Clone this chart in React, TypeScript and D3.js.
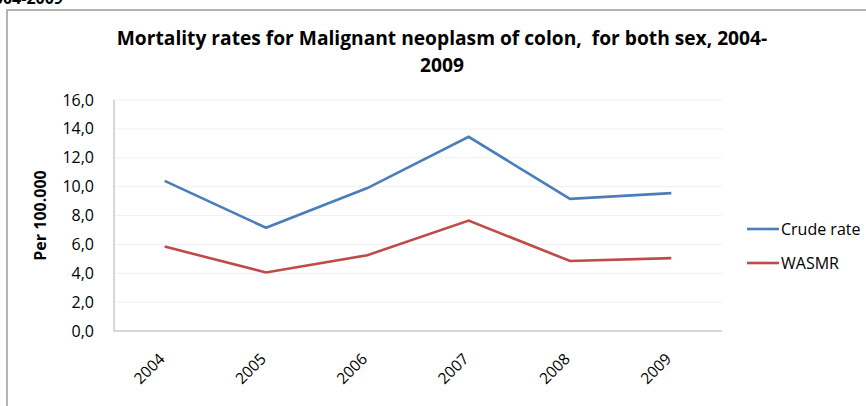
import React from "react";
import * as d3 from "d3";

const years = ["2004", "2005", "2006", "2007", "2008", "2009"];
const crudeRate = [10.4, 7.15, 9.9, 13.45, 9.15, 9.55];
const wasmr = [5.85, 4.05, 5.25, 7.65, 4.85, 5.05];
const yTicks = [0, 2, 4, 6, 8, 10, 12, 14, 16];
const seriesNames = ["Crude rate", "WASMR"];
const seriesColors = ["#4a7ebb", "#be4b48"];

const W = 866, H = 406;
const plot = { left: 114, right: 722, top: 100, bottom: 331 };
const font = "'Open Sans', sans-serif";

export default function App() {
  const x = d3.scaleBand<string>().domain(years).range([plot.left, plot.right]);
  const y = d3.scaleLinear().domain([0, 16]).range([plot.bottom, plot.top]);
  const line = d3.line<number>()
    .x((_, i) => (x(years[i]) as number) + x.bandwidth() / 2)
    .y((d) => y(d));
  const series = [crudeRate, wasmr];
  const fmt = (v: number) => v.toFixed(1).replace(".", ",");

  return (
    <svg width={W} height={H} style={{ position: "absolute", left: 0, top: 0, background: "#fff" }}>
      <text x={63} y={4} textAnchor="end" fontFamily={font} fontWeight="bold" fontSize={16}>2004-2009</text>
      <rect x={7} y={10} width={W} height={H} fill="none" stroke="#9a9a9a" strokeWidth={1.5} />
      <text x={442} y={45} textAnchor="middle" fontFamily={font} fontWeight="bold" fontSize={19.2} xmlSpace="preserve" style={{ whiteSpace: "pre" }}>
        {"Mortality rates for Malignant neoplasm of colon,  for both sex, 2004-"}
      </text>
      <text x={442} y={72} textAnchor="middle" fontFamily={font} fontWeight="bold" fontSize={19.2}>2009</text>
      {yTicks.map((t) => (
        <g key={t}>
          {t > 0 && <line x1={plot.left} x2={plot.right} y1={y(t)} y2={y(t)} stroke="#f0f0f0" strokeWidth={1} />}
          <text x={94} y={y(t)} dy="0.35em" textAnchor="end" fontFamily={font} fontSize={16}>{fmt(t)}</text>
        </g>
      ))}
      <line x1={plot.left} x2={plot.left} y1={plot.top} y2={plot.bottom} stroke="#b0b0b0" />
      <line x1={plot.left} x2={plot.right} y1={plot.bottom} y2={plot.bottom} stroke="#b0b0b0" />
      <text transform={`translate(46,${(plot.top + plot.bottom) / 2}) rotate(-90)`} textAnchor="middle"
        fontFamily={font} fontWeight="bold" fontSize={16}>Per 100.000</text>
      {years.map((yr) => {
        const cx = (x(yr) as number) + x.bandwidth() / 2;
        return (
          <text key={yr} transform={`translate(${cx + 1},${360}) rotate(-45)`} textAnchor="end"
            fontFamily={font} fontSize={15.5}>{yr}</text>
        );
      })}
      {series.map((s, i) => (
        <path key={i} d={line(s) || ""} fill="none" stroke={seriesColors[i]} strokeWidth={2.6} />
      ))}
      {seriesNames.map((n, i) => (
        <g key={n}>
          <line x1={747} x2={779} y1={229 + i * 34} y2={229 + i * 34} stroke={seriesColors[i]} strokeWidth={2.6} />
          <text x={781} y={229 + i * 34} dy="0.35em" fontFamily={font} fontSize={16}>{n}</text>
        </g>
      ))}
    </svg>
  );
}
